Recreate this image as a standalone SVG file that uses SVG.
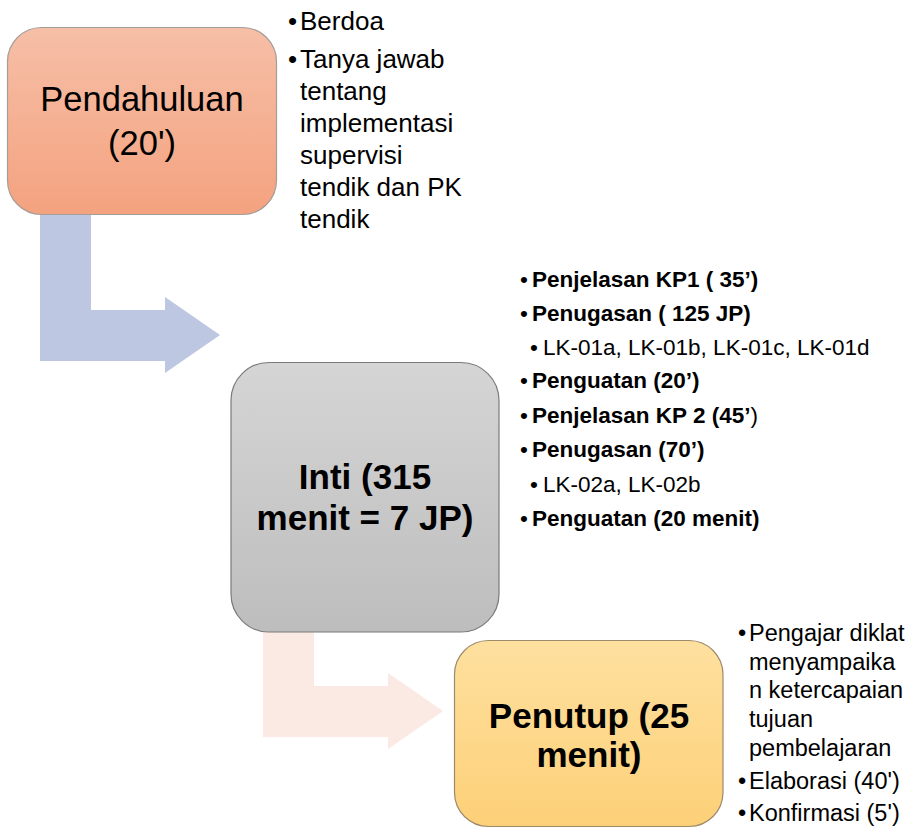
<svg xmlns="http://www.w3.org/2000/svg" width="917" height="828" viewBox="0 0 917 828">
<defs>
<linearGradient id="gOrange" x1="0" y1="0" x2="0" y2="1"><stop offset="0" stop-color="#f6bfa7"/><stop offset="1" stop-color="#f4a27f"/></linearGradient>
<linearGradient id="gGray" x1="0" y1="0" x2="0" y2="1"><stop offset="0" stop-color="#d5d5d5"/><stop offset="1" stop-color="#bdbdbd"/></linearGradient>
<linearGradient id="gGold" x1="0" y1="0" x2="0" y2="1"><stop offset="0" stop-color="#fee09f"/><stop offset="1" stop-color="#fdd078"/></linearGradient>
<style>
text{font-family:"Liberation Sans",Arial,sans-serif;fill:#000}
.box{stroke-width:1.2}
.title{font-size:34.5px;text-anchor:middle}
.titleB{font-size:35px;font-weight:bold;text-anchor:middle}
.l1{font-size:26px}
.l2{font-size:22.5px}
.b{font-weight:bold}
.l3{font-size:23.5px}
</style>
</defs>
<g id="connectors">
<polygon id="arrow-1-2" fill="#bdc7e2" points="40,214 91,214 91,310 165,310 165,297 220,335 165,373 165,361 40,361"/>
<polygon id="arrow-2-3" fill="#fbe9e4" points="263,632 314,632 314,686 388,686 388,673 443,711 388,749 388,737 263,737"/>
</g>
<g id="node-pendahuluan">
<rect class="box" x="7.5" y="27.5" width="269" height="187" rx="34" fill="url(#gOrange)" stroke="#a59d99"/>
<text class="title" x="142" y="111">Pendahuluan</text>
<text class="title" x="142" y="155">(20')</text>
</g>
<g id="list-pendahuluan" class="l1">
<text x="288" y="30">•</text><text x="300" y="30">Berdoa</text>
<text x="288" y="68">•</text><text x="300" y="68">Tanya jawab</text>
<text x="300" y="100">tentang</text>
<text x="300" y="132">implementasi</text>
<text x="300" y="164">supervisi</text>
<text x="300" y="196">tendik dan PK</text>
<text x="300" y="228">tendik</text>
</g>
<g id="node-inti">
<rect class="box" x="231" y="362.5" width="268" height="269.5" rx="38" fill="url(#gGray)" stroke="#7a7a7a"/>
<text class="titleB" x="365" y="489">Inti (315</text>
<text class="titleB" x="365" y="530">menit = 7 JP)</text>
</g>
<g id="list-inti" class="l2">
<text x="520" y="287">•</text><text class="b" x="532" y="287">Penjelasan KP1 ( 35’)</text>
<text x="530" y="355">•</text><text x="543" y="355">LK-01a, LK-01b, LK-01c, LK-01d</text>
<text x="520" y="321">•</text><text class="b" x="532" y="321">Penugasan ( 125 JP)</text>
<text x="520" y="388">•</text><text class="b" x="532" y="388">Penguatan (20’)</text>
<text x="520" y="423">•</text><text x="532" y="423"><tspan class="b">Penjelasan KP 2 (45’</tspan>)</text>
<text x="520" y="457">•</text><text class="b" x="532" y="457">Penugasan (70’)</text>
<text x="530" y="492">•</text><text x="543" y="492">LK-02a, LK-02b</text>
<text x="520" y="526">•</text><text class="b" x="532" y="526">Penguatan (20 menit)</text>
</g>
<g id="node-penutup">
<rect class="box" x="454.5" y="640.5" width="268.5" height="186" rx="34" fill="url(#gGold)" stroke="#9c8a6a"/>
<text class="titleB" x="589" y="728">Penutup (25</text>
<text class="titleB" x="589" y="767">menit)</text>
</g>
<g id="list-penutup" class="l3">
<text x="738" y="641">•</text><text x="749" y="641">Pengajar diklat</text>
<text x="749" y="670">menyampaika</text>
<text x="749" y="698">n ketercapaian</text>
<text x="749" y="727">tujuan</text>
<text x="749" y="756">pembelajaran</text>
<text x="738" y="789">•</text><text x="749" y="789">Elaborasi (40')</text>
<text x="738" y="821">•</text><text x="749" y="821">Konfirmasi (5')</text>
</g>
</svg>
